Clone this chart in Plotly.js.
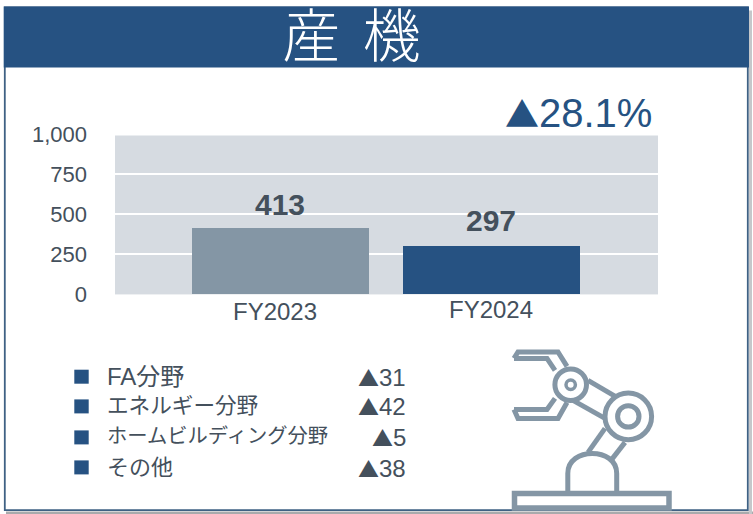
<!DOCTYPE html>
<html><head><meta charset="utf-8">
<script src="https://cdn.plot.ly/plotly-3.0.1.min.js"></script>
<style>html,body{margin:0;padding:0;background:#fff}#c{width:753px;height:514px}</style>
</head><body><div id="c"></div>
<script>
const W=753,H=514;
const categories=['FY2023','FY2024'];
const sales=[413,297];
const barColors=['#8496a5','#265282'];
const yTicks=[0,250,500,750,1000];
const yTickLabels=['0','250','500','750','1,000'];
const segments=['FA分野','エネルギー分野','ホームビルディング分野','その他'];
const segmentChanges=['▲31','▲42','▲5','▲38'];
const titleText='産\u00a0\u2006機';
const changeText='▲28.1%';
const dark='#44505c', navy='#265282', steel='#8496a5';
const PL=115,PR=658,PT=133.6,PB=293.6;
const X=p=>(p-PL)/(PR-PL), Y=p=>(PB-p)/(PB-PT);
const FONT='"Liberation Sans","Noto Sans CJK JP",sans-serif';
const tri=(s,size)=>s.replace('▲','<span style="font-family:\'Noto Sans CJK JP\';font-size:'+size+'px">▲</span>');
const rect=(x0,y0,x1,y1,fill,line,lw,under)=>({type:'rect',xref:'paper',yref:'paper',x0:X(x0),x1:X(x1),y0:Y(y0),y1:Y(y1),fillcolor:fill,line:{color:line||fill,width:lw===undefined?0:lw},layer:under?'below':'above'});
const path=(pts,c,w)=>({type:'path',xref:'paper',yref:'paper',path:pts.map((p,i)=>(i?'L':'M')+X(p[0]).toFixed(5)+','+Y(p[1]).toFixed(5)).join(' '),line:{color:c,width:w},layer:'above'});
const circ=(cx,cy,r,w,c,fill)=>({type:'circle',xref:'paper',yref:'paper',x0:X(cx-r),x1:X(cx+r),y0:Y(cy+r),y1:Y(cy-r),line:{color:c,width:w},fillcolor:fill||'rgba(0,0,0,0)',layer:'above'});
const px=(x,y,text,size,color,anchor)=>({xref:'paper',yref:'paper',x:X(x),y:Y(y),text,showarrow:false,xanchor:anchor||'left',yanchor:'middle',font:{family:FONT,size,color}});
const shapes=[
 rect(6,511,753,514,'#a9aaac',null,0,true),
 rect(749,10,752,514,'#c5c7ca',null,0,true),
 rect(4.8,7,747.8,509.8,'#ffffff','#3f6184',1.8,true),
 rect(3,6,4,67,'#b8c8d8',null,0,true),
 rect(4,6,749,67,navy,null,0,true),
 rect(PL,135,PR,PB,'#d6dbe1',null,0,true),
 // robot arm icon
 path([[514,358],[518,351.5],[558,351.5],[567,366]],steel,5),
 path([[514,358],[547,358],[555,370]],steel,5),
 path([[514,409],[547,409],[555,398]],steel,5),
 path([[514,409],[518,418],[558,418],[567,402]],steel,5),
 path([[588,380],[617,397]],steel,5),
 path([[573,400],[605,418]],steel,5),
 path([[605,428],[588,452]],steel,5),
 path([[625,442],[611,460]],steel,5),
 circ(570.7,384.3,15.8,5,steel,'#ffffff'),
 circ(570.7,384.3,4.7,3.5,steel,'#ffffff'),
 circ(628.3,416,23.3,5,steel,'#ffffff'),
 circ(628.3,416,10.7,5,steel,'#ffffff'),
 {type:'path',xref:'paper',yref:'paper',layer:'above',line:{color:steel,width:5},
  path:`M${X(567.8)},${Y(491)} L${X(567.8)},${Y(473)} C${X(567.8)},${Y(446.3)} ${X(616.7)},${Y(446.3)} ${X(616.7)},${Y(473)} L${X(616.7)},${Y(491)}`},
 rect(514.5,493,669,507.5,'#ffffff',steel,5.5),
];
[376.3,406,437,467].forEach(y=>shapes.push(rect(74.3,y-7,88.7,y+7,navy)));
const annotations=[px(654,112,tri(changeText,34),40,navy,'right')];
const valueOffsets=[5,7.5], catShift=[-17,-15], catX=[-5.5,0];
categories.forEach((c,i)=>annotations.push(
 {x:c,y:sales[i],xref:'x',yref:'y',text:String(sales[i]),showarrow:false,yanchor:'bottom',yshift:valueOffsets[i],font:{family:FONT,size:30,color:dark,weight:'bold'}},
 {x:c,y:0,xref:'x',yref:'y',text:c,showarrow:false,yanchor:'middle',yshift:catShift[i],xshift:catX[i],font:{family:FONT,size:24,color:dark}}
));
const segSizes=[24,21.6,20.3,22];
segments.forEach((s,i)=>{
 const y=[376,405,436,466.7][i];
 annotations.push(px(105,y,s,segSizes[i],dark));
 annotations.push(px(408,y+0.5,tri(segmentChanges[i],21),24,dark,'right'));
});
const data=[{type:'bar',x:categories,y:sales,marker:{color:barColors,line:{width:0}},width:0.839,hoverinfo:'skip'}];
const layout={width:W,height:H,autosize:false,showlegend:false,
 paper_bgcolor:'#ffffff',plot_bgcolor:'rgba(0,0,0,0)',
 margin:{l:PL,r:W-PR,t:PT,b:H-PB,pad:0},
 title:{text:titleText,font:{family:'"Noto Sans CJK JP",sans-serif',size:58,color:'#ffffff',weight:300},x:351.5/W,xanchor:'center',xref:'container',y:1-37/H,yanchor:'middle',yref:'container'},
 xaxis:{type:'category',range:[-0.784,1.789],showticklabels:false,ticks:'',showgrid:false,zeroline:false,showline:false,fixedrange:true},
 yaxis:{range:[0,1000],tickvals:yTicks,ticktext:yTickLabels,ticks:'',ticklabelstandoff:27,tickfont:{family:FONT,size:22,color:dark},
  showgrid:true,gridcolor:'#ffffff',gridwidth:2,zeroline:true,zerolinecolor:'#eef0f2',zerolinewidth:1,showline:false,fixedrange:true},
 shapes,annotations,bargap:0};
Plotly.newPlot('c',data,layout,{displayModeBar:false,staticPlot:true});
</script></body></html>
